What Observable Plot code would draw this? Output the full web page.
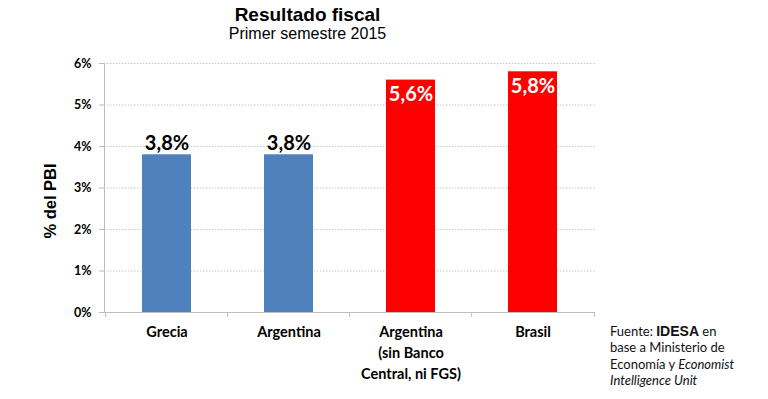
<!DOCTYPE html>
<html><head><meta charset="utf-8">
<script src="https://cdn.jsdelivr.net/npm/d3@7"></script>
<script src="https://cdn.jsdelivr.net/npm/@observablehq/plot@0.6"></script>
<style>
body{margin:0;background:#fff;}
#wrap{position:relative;width:768px;height:399px;overflow:hidden;}
#title{position:absolute;left:0;width:615px;top:5px;line-height:1;text-align:center;font-family:"Liberation Sans",Arial,sans-serif;font-weight:bold;font-size:19px;color:#000;}
#subtitle{position:absolute;left:0;width:615px;top:26px;line-height:1;text-align:center;font-family:"Liberation Sans",Arial,sans-serif;font-size:16px;color:#000;}
#ylab{position:absolute;left:50px;top:201px;transform:translate(-50%,-50%) rotate(-90deg);font-family:"Liberation Sans",Arial,sans-serif;font-weight:bold;font-size:16.5px;white-space:nowrap;}
#src{position:absolute;left:610px;top:323px;font-family:Lato,"Open Sans",sans-serif;font-size:13px;line-height:16.4px;color:#111;}
#chart{position:absolute;left:0;top:0;}
</style></head>
<body><div id="wrap">
<div id="chart"></div>
<div id="title">Resultado fiscal</div>
<div id="subtitle">Primer semestre 2015</div>
<div id="ylab">% del PBI</div>
<div id="src">Fuente: <b style="font-family:'Liberation Sans',Arial,sans-serif;font-size:14px">IDESA</b> en<br>base a Ministerio de<br>Economía y <i>Economist</i><br><i>Intelligence Unit</i></div>
</div>
<script>
const categories = ["Grecia", "Argentina", "Argentina\n(sin Banco\nCentral, ni FGS)", "Brasil"];
const values = [3.8, 3.8, 5.6, 5.8];
const labels = ["3,8%", "3,8%", "5,6%", "5,8%"];
const colors = ["#4F81BD", "#4F81BD", "#FF0000", "#FF0000"];
const yTicks = [0, 1, 2, 3, 4, 5, 6];

const data = categories.map((c, i) => ({cat: c, value: values[i], label: labels[i], color: colors[i], inside: i >= 2}));
const step = (595 - 104) / categories.length;
const boundaries = categories.map((c, i) => ({cat: c, dx: -step / 2})).concat([{cat: categories[categories.length - 1], dx: step / 2}]);

const chart = Plot.plot({
  width: 768, height: 399,
  marginLeft: 104, marginRight: 173, marginTop: 63, marginBottom: 87,
  style: {fontFamily: "Lato, 'Open Sans', sans-serif", background: "transparent"},
  x: {domain: categories, paddingInner: 0.6, paddingOuter: 0.3, label: null},
  y: {domain: [0, 6], label: null},
  marks: [
    Plot.ruleY(yTicks.slice(1), {stroke: "#c8c8c8", strokeDasharray: "1.5,1.5"}),
    Plot.barY(data, {x: "cat", y: "value", fill: "color"}),
    Plot.frame({anchor: "left", stroke: "#bdbdbd"}),
    Plot.ruleY([0], {stroke: "#bdbdbd", strokeWidth: 1.2}),
    ...boundaries.map(b => Plot.ruleX([b], {x: "cat", y1: 0, y2: -0.12, dx: b.dx, stroke: "#bdbdbd"})),
    Plot.axisY({ticks: yTicks, tickFormat: d => d + "%", tickSize: 5, tickPadding: 8, fontSize: 12.5, fontWeight: "bold", stroke: "#bdbdbd", fill: "#000", label: null}),
    Plot.axisX({tickSize: 0, tickPadding: 10, fontSize: 14.5, fontWeight: "bold", lineHeight: 1.45, fill: "#000", label: null}),
    Plot.text(data.filter(d => !d.inside), {x: "cat", y: "value", text: "label", lineAnchor: "bottom", dy: -5, fontSize: 20, fontWeight: "bold", fill: "#000"}),
    Plot.text(data.filter(d => d.inside), {x: "cat", y: "value", text: "label", lineAnchor: "top", dy: 7, fontSize: 20, fontWeight: "bold", fill: "#fff"})
  ]
});
document.getElementById("chart").appendChild(chart);
</script>
</body></html>
